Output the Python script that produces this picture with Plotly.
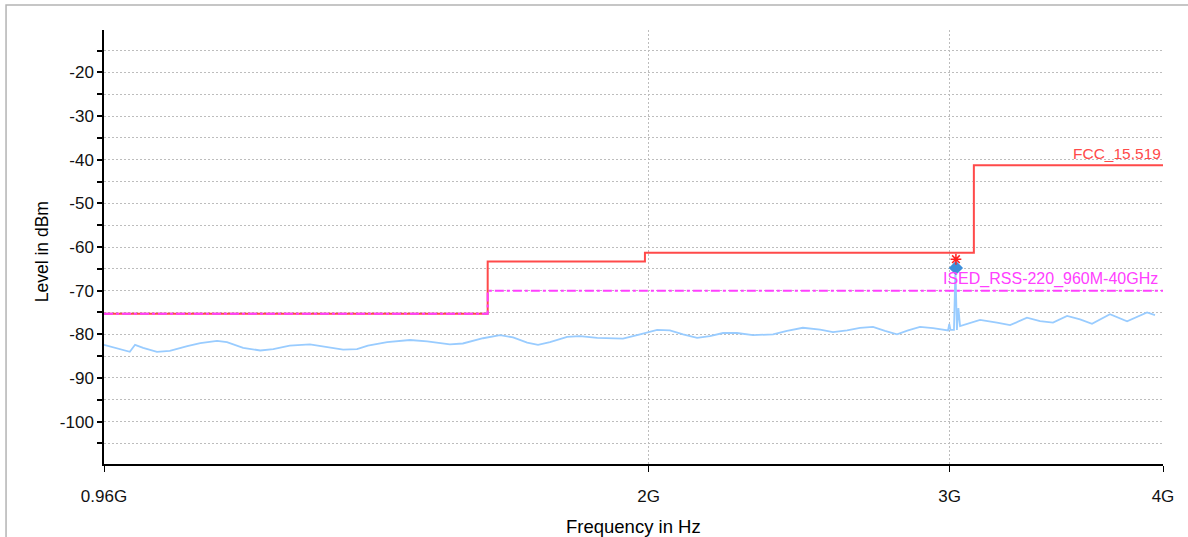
import plotly.graph_objects as go

# ---------------- data ----------------
# measured trace (frequency in GHz, level in dBm)
trace_freq_ghz = [0.960, 0.981, 0.994, 1.001, 1.012, 1.031, 1.049, 1.074, 1.093, 1.118,
                  1.133, 1.158, 1.185, 1.206, 1.233, 1.267, 1.297, 1.325, 1.350, 1.370,
                  1.406, 1.450, 1.484, 1.530, 1.557, 1.600, 1.637, 1.666, 1.698, 1.723,
                  1.751, 1.792, 1.823, 1.866, 1.932, 1.972, 1.977, 2.023, 2.058, 2.095,
                  2.135, 2.172, 2.211, 2.253, 2.302, 2.365, 2.410, 2.462, 2.520, 2.564,
                  2.613, 2.659, 2.706, 2.750, 2.795, 2.837, 2.883, 2.934, 2.994, 2.999,
                  3.004, 3.018, 3.024, 3.030, 3.036, 3.043, 3.126, 3.198, 3.255, 3.330,
                  3.389, 3.449, 3.515, 3.577, 3.635, 3.724, 3.811, 3.915, 3.957]
trace_level_dbm = [-82.4, -83.4, -84.0, -82.4, -83.1, -84.0, -83.8, -82.7, -82.0, -81.5,
                   -81.8, -83.1, -83.7, -83.4, -82.6, -82.3, -82.9, -83.5, -83.4, -82.6,
                   -81.8, -81.3, -81.6, -82.3, -82.1, -80.9, -80.2, -80.7, -81.9, -82.4,
                   -81.8, -80.6, -80.4, -80.8, -81.0, -80.2, -80.0, -79.0, -79.1, -80.0,
                   -80.8, -80.4, -79.7, -79.7, -80.2, -80.0, -79.2, -78.5, -78.9, -79.5,
                   -79.1, -78.5, -78.3, -79.2, -80.0, -79.1, -78.3, -78.6, -79.1, -77.6,
                   -79.0, -79.0, -64.8, -79.0, -74.0, -78.1, -76.7, -77.3, -77.9, -76.2,
                   -77.0, -77.3, -75.8, -76.6, -77.6, -75.4, -77.0, -75.0, -75.6]

# limit lines (step edges)
fcc_freq_ghz = [0.96, 1.61, 1.99, 3.1, 4.0]
fcc_limit_dbm = [-75.3, -63.3, -61.3, -41.3, -41.3]
ised_freq_ghz = [0.96, 1.61, 4.0]
ised_limit_dbm = [-75.3, -70.0, -70.0]

# markers
peak_freq_ghz = [3.026]
peak_level_dbm = [-64.8]
peak_limit_marker_dbm = [-62.8]

x_tick_vals = [0.96, 2, 3, 4]
x_tick_text = ["0.96G", "2G", "3G", "4G"]
y_tick_vals = [-20, -30, -40, -50, -60, -70, -80, -90, -100]
y_tick_text = [str(v) for v in y_tick_vals]

FONT = "Liberation Sans, Arial, Helvetica, sans-serif"
GRID_COLOR = "#bdbdbd"
GRID_DASH = "2px,2px"

fig = go.Figure()

fig.add_trace(go.Scatter(x=fcc_freq_ghz, y=fcc_limit_dbm, mode="lines", line_shape="hv",
                         line=dict(color="#ff4a4a", width=2), hoverinfo="skip", showlegend=False))
fig.add_trace(go.Scatter(x=ised_freq_ghz, y=ised_limit_dbm, mode="lines", line_shape="hv",
                         line=dict(color="#ff40ff", width=2, dash="dashdot"), hoverinfo="skip",
                         showlegend=False))
fig.add_trace(go.Scatter(x=trace_freq_ghz, y=trace_level_dbm, mode="lines",
                         line=dict(color="#99ccff", width=1.8), showlegend=False))
fig.add_trace(go.Scatter(x=peak_freq_ghz, y=peak_level_dbm, mode="markers",
                         marker=dict(symbol="diamond", size=11, color="#3d8fdb"), showlegend=False))
fig.add_trace(go.Scatter(x=peak_freq_ghz, y=peak_limit_marker_dbm, mode="markers",
                         marker=dict(symbol="asterisk-open", size=9, color="#ff2020",
                                     line=dict(color="#ff2020", width=1.5)), showlegend=False))

grid = dict(showgrid=True, gridcolor=GRID_COLOR, griddash=GRID_DASH, gridwidth=1)

fig.update_xaxes(type="log", range=[-0.01773, 0.60206], tickvals=x_tick_vals, ticktext=x_tick_text,
                 ticks="outside", ticklen=6, tickwidth=1, tickcolor="#000",
                 showline=True, linecolor="#000", linewidth=1.5, zeroline=False,
                 tickfont=dict(family=FONT, size=17, color="#111"), ticklabelstandoff=10, **grid)
fig.update_yaxes(range=[-109.7, -10.3], tickvals=y_tick_vals, ticktext=y_tick_text,
                 ticks="outside", ticklen=5, tickwidth=1.5, tickcolor="#000",
                 showline=True, linecolor="#000", linewidth=1.5, zeroline=False,
                 tickfont=dict(family=FONT, size=17, color="#111"),
                 minor=dict(dtick=5, tick0=0, ticks="outside", ticklen=5, tickwidth=1.5,
                            tickcolor="#000", showgrid=True, gridcolor=GRID_COLOR,
                            griddash=GRID_DASH),
                 **grid)

fig.update_layout(
    width=1188, height=537,
    margin=dict(l=104, r=25, t=30, b=73),
    paper_bgcolor="white", plot_bgcolor="white",
    font=dict(family=FONT, size=17, color="#000"),
    annotations=[
        dict(text="FCC_15.519", x=1.0, xref="paper", y=-41.3, yref="y", xanchor="right",
             yanchor="bottom", showarrow=False, yshift=1,
             font=dict(family=FONT, size=15.5, color="#ff4a4a")),
        dict(text="ISED_RSS-220_960M-40GHz", x=0.997, xref="paper", y=-70, yref="y",
             xanchor="right", yanchor="bottom", showarrow=False, yshift=1,
             font=dict(family=FONT, size=16, color="#ff40ff")),
        dict(text="Level in dBm", x=-0.0585, xref="paper", y=0.488, yref="paper",
             textangle=-90, showarrow=False, xanchor="center", yanchor="middle",
             font=dict(family=FONT, size=17.5, color="#000")),
        dict(text="Frequency in Hz", x=0.5, xref="paper", y=-0.145, yref="paper",
             showarrow=False, xanchor="center", yanchor="middle",
             font=dict(family=FONT, size=18.5, color="#000")),
    ],
    shapes=[
        dict(type="rect", xref="paper", yref="paper", x0=-0.0925, x1=1.05, y0=-0.3, y1=1.0576,
             line=dict(color="#b4b4b4", width=1.5), fillcolor="rgba(0,0,0,0)", layer="below"),
    ],
)

fig.write_html("out.html", config={"displayModeBar": False},
               post_script="document.body.style.margin='0px';document.body.style.padding='0px';")
